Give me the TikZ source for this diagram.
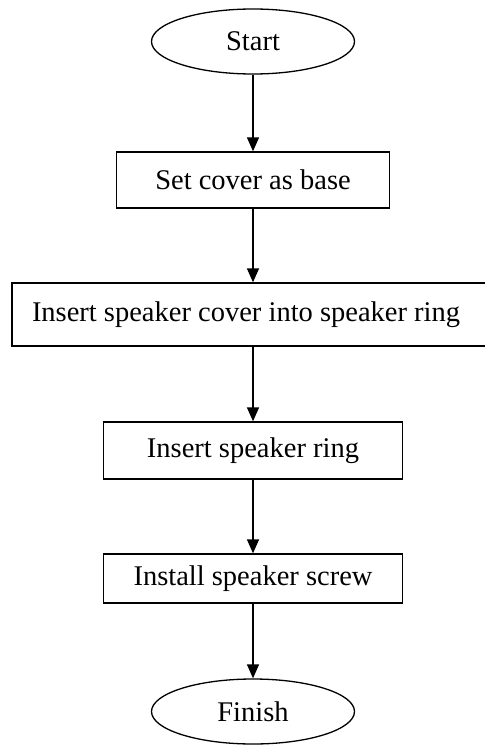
\documentclass[tikz,border=0pt]{standalone}
\usepackage{fontspec}
\setmainfont{Liberation Serif}
\usetikzlibrary{shapes.geometric,arrows.meta}

\tikzset{
  x=1pt, y=1pt,
  every node/.style={font=\fontsize{28.5}{32}\selectfont, line width=1.3pt, inner sep=0pt},
  terminal/.style={draw, ellipse, minimum width=203pt, minimum height=65pt},
  stepbox/.style={draw, rectangle, minimum height=#1},
  flow/.style={draw, line width=1.4pt, -{Triangle[length=14pt,width=12pt]}},
}

\begin{document}
\begin{tikzpicture}
  \useasboundingbox (0,0) rectangle (484,-746);

  \node[terminal] (start) at (253,-41.5) {Start};
  \node[stepbox=56pt, minimum width=273pt] (b1) at (253,-180) {Set cover as base};
  \node[stepbox=63pt, text width=450pt, inner xsep=14pt, align=flush left] (b2) at (251,-314.5)
    {\hspace{6pt}Insert speaker cover into speaker ring};
  \node[stepbox=57pt, minimum width=299pt] (b3) at (253,-450.5) {Insert speaker ring};
  \node[stepbox=49pt, minimum width=299pt] (b4) at (253,-578.5) {Install speaker screw};
  \node[terminal] (finish) at (253,-711.5) {Finish};

  \draw[flow] (start.south) -- (start.south |- b1.north);
  \draw[flow] (b1.south) -- (b1.south |- b2.north);
  \draw[flow] (b1.south |- b2.south) -- (b3.north);
  \draw[flow] (b3.south) -- (b4.north);
  \draw[flow] (b4.south) -- (finish.north);
\end{tikzpicture}
\end{document}
